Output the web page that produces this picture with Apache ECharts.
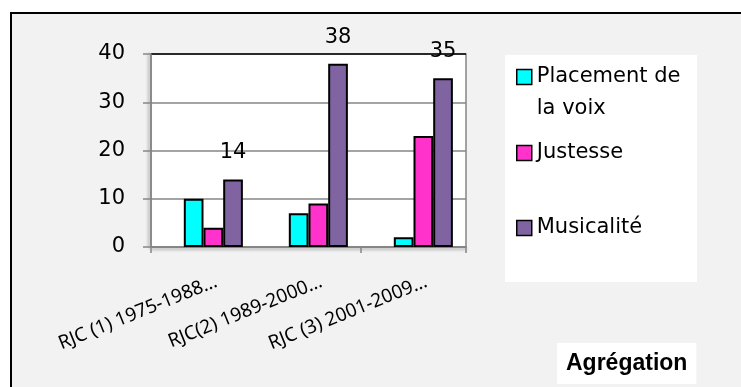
<!DOCTYPE html>
<html><head><meta charset="utf-8">
<script src="https://cdn.jsdelivr.net/npm/echarts@6/dist/echarts.min.js"></script>
<style>
html,body{margin:0;padding:0;background:#fff;overflow:hidden;width:741px;height:387px;}
#frame{position:absolute;left:10px;top:12px;width:800px;height:500px;border:2px solid #000;background:#f2f2f2;}
#main{position:absolute;left:0;top:0;width:741px;height:387px;}
</style></head><body>
<div id="frame"></div><div id="main"></div>
<script>
const categories = ['RJC (1) 1975-1988…', 'RJC(2) 1989-2000…', 'RJC (3) 2001-2009…'];
const seriesNames = ['Placement de la voix', 'Justesse', 'Musicalité'];
const legendLabels = [' \nPlacement de\nla voix', 'Justesse', 'Musicalité'];
const placementValues = [10, 7, 2];
const justesseValues = [4, 9, 23];
const musicaliteValues = [14, 38, 35];
const emptySlotValues = [null, null, null];
const seriesColors = ['#00FFFF', '#FF33CC', '#8064A2'];
const yMin = 0, yMax = 40, yStep = 10;
const chartTitle = 'Agrégation';

const FONT = 'DejaVu Sans';
const GREY = '#868686';

const chart = echarts.init(document.getElementById('main'), null, {renderer: 'canvas'});

function barSeries(name, data, color, withLabel) {
  return {
    name: name, type: 'bar', xAxisIndex: 0, yAxisIndex: 0, data: data,
    barGap: '0%', barCategoryGap: '25%',
    itemStyle: {color: color, borderColor: '#000', borderWidth: 2},
    label: withLabel ? {show: true, position: 'top', distance: 16, fontSize: 21, fontFamily: FONT, color: '#000'} : {show: false},
    emphasis: {disabled: true}
  };
}

function legendFor(i, top) {
  return {
    data: [seriesNames[i]], orient: 'vertical', left: 516, top: top, padding: 0,
    itemWidth: 15, itemHeight: 15, icon: 'rect', selectedMode: false,
    itemStyle: {borderColor: '#000', borderWidth: 1.5},
    formatter: function () { return legendLabels[i]; },
    textStyle: {fontSize: 21, fontFamily: FONT, color: '#000', lineHeight: 32}
  };
}

chart.setOption({
  animation: false,
  title: {
    text: chartTitle, left: 557, top: 343, backgroundColor: '#fff', padding: [9, 9, 9, 9],
    textStyle: {fontFamily: 'Liberation Sans', fontWeight: 'bold', fontSize: 23, color: '#000', lineHeight: 23}
  },
  graphic: [{
    type: 'rect', left: 505, top: 55, z: 0,
    shape: {width: 192, height: 227}, style: {fill: '#fff'}
  }],
  legend: [
    legendFor(0, 29),
    legendFor(1, 137),
    legendFor(2, 212)
  ],
  grid: [
    {left: 151, top: 54, width: 315, height: 193, show: true, backgroundColor: '#fff', borderColor: GREY, borderWidth: 1.5},
    {left: 164, top: 54, width: 315, height: 193, show: false}
  ],
  xAxis: [
    {
      type: 'category', gridIndex: 0, data: categories,
      axisLine: {show: true, lineStyle: {color: GREY, width: 1.5, shadowColor: 'rgba(0,0,0,0.35)', shadowBlur: 3, shadowOffsetY: 2}},
      axisTick: {show: true, length: 6, lineStyle: {color: GREY, width: 1.5}},
      axisLabel: {show: false},
      splitLine: {show: false}
    },
    {
      type: 'category', gridIndex: 1, data: categories,
      axisLine: {show: false}, axisTick: {show: false}, splitLine: {show: false},
      axisLabel: {show: true, interval: 0, rotate: 22, margin: 34, fontSize: 19, fontFamily: 'Noto Sans', color: '#000'}
    }
  ],
  yAxis: [
    {
      type: 'value', gridIndex: 0, min: yMin, max: yMax, interval: yStep,
      axisLine: {show: true, lineStyle: {color: GREY, width: 1.5, shadowColor: 'rgba(0,0,0,0.35)', shadowBlur: 3, shadowOffsetX: -2}},
      axisTick: {show: true, length: 8, lineStyle: {color: GREY, width: 1.5}},
      axisLabel: {fontSize: 21, fontFamily: FONT, color: '#000', margin: 26},
      splitLine: {show: true, lineStyle: {color: [GREY, GREY, GREY, GREY, '#000'], width: 1.5}}
    },
    {type: 'value', gridIndex: 1, min: yMin, max: yMax, show: false}
  ],
  series: [
    Object.assign(barSeries('slot', emptySlotValues, 'transparent', false), {itemStyle: {color: 'transparent', borderWidth: 0}}),
    barSeries(seriesNames[0], placementValues, seriesColors[0], false),
    barSeries(seriesNames[1], justesseValues, seriesColors[1], false),
    barSeries(seriesNames[2], musicaliteValues, seriesColors[2], true)
  ]
});
</script>
</body></html>
